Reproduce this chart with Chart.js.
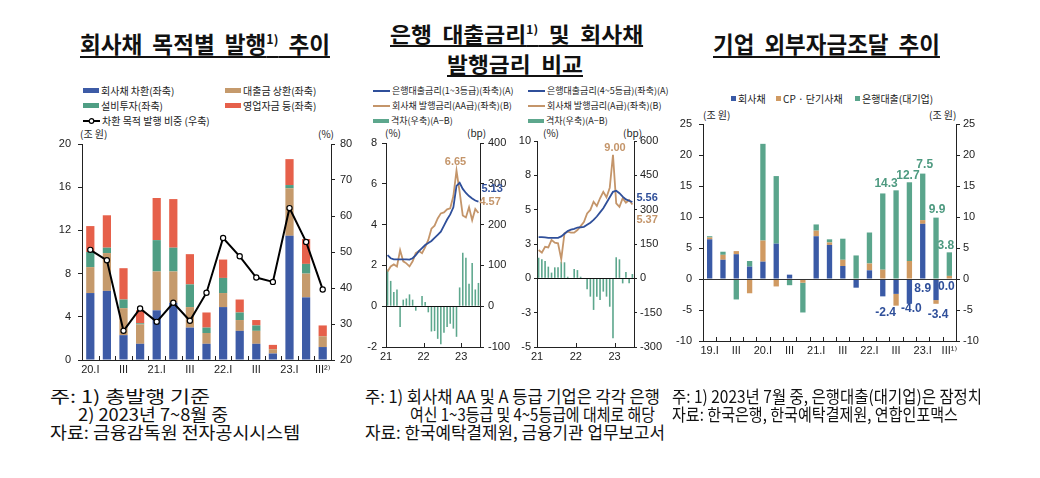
<!DOCTYPE html>
<html><head><meta charset="utf-8">
<script src="https://cdn.jsdelivr.net/npm/chart.js@4.4.0/dist/chart.umd.min.js"></script>
<style>
body{margin:0;background:#fff;width:1040px;height:478px;position:relative;overflow:hidden;font-family:'Noto Sans CJK KR','Noto Sans',sans-serif;color:#111;}
.abs{position:absolute;white-space:nowrap;transform-origin:0 0;}
.title{font-weight:700;line-height:24px;text-decoration:underline;text-decoration-thickness:2px;text-underline-offset:3px;word-spacing:5px;color:#111;}
.title sup{font-size:0.55em;vertical-align:0.7em;line-height:0;}
canvas{position:absolute;}
.lg{position:absolute;font-size:10px;line-height:13px;white-space:nowrap;display:flex;align-items:center;color:#222;}
.lg9{font-size:9px;}
.sw{display:inline-block;width:16px;height:5px;margin-right:2px;}
.sq{display:inline-block;width:5px;height:5px;margin-right:2px;}
.note{font-size:17px;line-height:18px;color:#111;}
</style></head><body>

<!-- titles -->
<div class="abs title" style="left:80px;top:31px;font-size:23px" data-w="250">회사채 목적별 발행<sup>1)</sup> 추이</div>
<div class="abs title" style="left:390px;top:21px;font-size:21px" data-w="253">은행 대출금리<sup>1)</sup> 및 회사채</div>
<div class="abs title" style="left:447px;top:51px;font-size:21px" data-w="136">발행금리 비교</div>
<div class="abs title" style="left:713px;top:31px;font-size:23px" data-w="227">기업 외부자금조달 추이</div>

<!-- chart 1 legend -->
<div class="lg" style="left:83px;top:84px"><i class="sw" style="background:#3d5ba6"></i>회사채 차환(좌축)</div>
<div class="lg" style="left:225px;top:84px"><i class="sw" style="background:#c59a6c"></i>대출금 상환(좌축)</div>
<div class="lg" style="left:83px;top:99px"><i class="sw" style="background:#4f9e84"></i>설비투자(좌축)</div>
<div class="lg" style="left:225px;top:99px"><i class="sw" style="background:#e6604a"></i>영업자금 등(좌축)</div>
<div class="lg" style="left:83px;top:114px"><svg width="17" height="8" style="margin-right:2px"><line x1="0" y1="4" x2="17" y2="4" stroke="#000" stroke-width="2"/><circle cx="8.5" cy="4" r="2.3" fill="#fff" stroke="#000" stroke-width="1.2"/></svg>차환 목적 발행 비중 (우축)</div>
<div class="lg" style="left:80px;top:127px">(조 원)</div>
<div class="lg" style="left:318px;top:127px">(%)</div>

<!-- chart 2 legend -->
<div class="lg lg9" style="left:373px;top:84px"><svg width="17" height="4" style="margin-right:2px"><line x1="0" y1="2" x2="17" y2="2" stroke="#2f4f9a" stroke-width="2"/></svg>은행대출금리(1~3등급)(좌축)(A)</div>
<div class="lg lg9" style="left:373px;top:99px"><svg width="17" height="4" style="margin-right:2px"><line x1="0" y1="2" x2="17" y2="2" stroke="#c4956a" stroke-width="2"/></svg>회사채 발행금리(AA급)(좌축)(B)</div>
<div class="lg lg9" style="left:373px;top:114px"><i class="sw" style="background:#5da78d;height:4px"></i>격차(우축)(A−B)</div>
<div class="lg" style="left:385px;top:126px">(%)</div>
<div class="lg" style="left:467px;top:126px">(bp)</div>

<!-- chart 3 legend -->
<div class="lg lg9" style="left:528px;top:84px"><svg width="17" height="4" style="margin-right:2px"><line x1="0" y1="2" x2="17" y2="2" stroke="#2f4f9a" stroke-width="2"/></svg>은행대출금리(4~5등급)(좌축)(A)</div>
<div class="lg lg9" style="left:528px;top:99px"><svg width="17" height="4" style="margin-right:2px"><line x1="0" y1="2" x2="17" y2="2" stroke="#c4956a" stroke-width="2"/></svg>회사채 발행금리(A급)(좌축)(B)</div>
<div class="lg lg9" style="left:528px;top:114px"><i class="sw" style="background:#5da78d;height:4px"></i>격차(우축)(A−B)</div>
<div class="lg" style="left:543px;top:126px">(%)</div>
<div class="lg" style="left:623px;top:126px">(bp)</div>

<!-- chart 4 legend -->
<div class="lg" style="left:731px;top:92px"><i class="sq" style="background:#3a5aa6"></i>회사채</div>
<div class="lg" style="left:776px;top:92px"><i class="sq" style="background:#d09a62"></i>CP · 단기사채</div>
<div class="lg" style="left:855px;top:92px"><i class="sq" style="background:#5aa58c"></i>은행대출(대기업)</div>
<div class="lg" style="left:703px;top:108px">(조 원)</div>
<div class="lg" style="left:929px;top:108px">(조 원)</div>

<canvas id="c1" width="320" height="250" style="left:40px;top:130px"></canvas>
<canvas id="c2" width="160" height="240" style="left:355px;top:128px"></canvas>
<canvas id="c3" width="165" height="240" style="left:507px;top:128px"></canvas>
<canvas id="c4" width="320" height="255" style="left:665px;top:108px"></canvas>

<!-- notes -->
<div class="abs note" style="left:50px;top:387px" data-w="160">주: 1) 총발행 기준</div>
<div class="abs note" style="left:78px;top:405px" data-w="150">2) 2023년 7~8월 중</div>
<div class="abs note" style="left:50px;top:423px" data-w="250">자료: 금융감독원 전자공시시스템</div>
<div class="abs note" style="left:365px;top:387px" data-w="295">주: 1) 회사채 AA 및 A 등급 기업은 각각 은행</div>
<div class="abs note" style="left:410px;top:405px" data-w="245">여신 1~3등급 및 4~5등급에 대체로 해당</div>
<div class="abs note" style="left:365px;top:423px" data-w="300">자료: 한국예탁결제원, 금융기관 업무보고서</div>
<div class="abs note" style="left:672px;top:387px" data-w="310">주: 1) 2023년 7월 중, 은행대출(대기업)은 잠정치</div>
<div class="abs note" style="left:672px;top:405px" data-w="286">자료: 한국은행, 한국예탁결제원, 연합인포맥스</div>

<script>
// ---------- Chart 1 data: 회사채 목적별 발행 ----------
const c1Labels   = ['20.I','','III','','21.I','','III','','22.I','','III','','23.I','','III²⁾'];
const refinance  = [6.2,6.4,2.3,1.5,4.6,5.3,3.0,1.5,4.9,2.7,1.5,0.6,11.5,5.8,1.2];
const loanRepay  = [2.4,3.5,2.5,1.8,3.6,2.9,1.9,1.0,1.3,1.0,1.2,0.4,4.4,2.2,1.0];
const facility   = [1.4,0.5,0.8,0.1,2.9,2.2,2.1,0.5,1.4,0.7,0.5,0.0,0.3,0.9,0.0];
const opFunds    = [2.4,3.0,2.9,1.2,3.9,4.5,2.8,1.4,1.7,1.2,0.5,0.4,2.4,2.3,1.0];
const refiShare  = [50.6,47.7,28.1,34.3,30.6,35.9,30.9,38.7,53.9,48.8,42.9,41.7,62.2,52.8,39.6];

// ---------- Chart 2/3 data: monthly rates ----------
const months = ['21.01','21.02','21.03','21.04','21.05','21.06','21.07','21.08','21.09','21.10','21.11','21.12',
                '22.01','22.02','22.03','22.04','22.05','22.06','22.07','22.08','22.09','22.10','22.11','22.12',
                '23.01','23.02','23.03','23.04','23.05','23.06'];
const bank13 = [2.5,2.35,2.3,2.3,2.3,2.3,2.3,2.28,2.35,2.5,2.7,2.85,3.0,3.1,3.2,3.35,3.5,3.65,3.95,4.25,4.5,4.85,5.9,6.05,5.75,5.55,5.4,5.28,5.18,5.13];
const bondAA = [1.7,1.95,2.05,1.95,2.75,2.2,2.1,1.95,2.2,2.6,2.7,2.6,2.9,3.25,3.8,3.95,4.3,4.55,4.6,4.75,4.8,5.4,6.65,5.6,4.45,4.35,4.85,4.22,4.77,4.57];
const gap13  = [90,62,35,41,-51,16,19,29,16,-11,0,25,10,-15,-62,-61,-80,-93,-65,-51,-43,-55,-75,46,131,119,55,106,41,57];
const bank45 = [3.0,3.0,2.98,2.95,2.95,2.95,2.95,3.05,3.25,3.45,3.55,3.6,3.7,3.72,3.75,3.9,4.05,4.25,4.5,4.8,5.1,5.5,5.9,6.3,6.38,6.2,5.95,5.75,5.65,5.56];
const bondA  = [2.06,1.87,2.3,2.25,2.8,2.6,2.55,1.4,3.28,3.4,3.33,3.33,3.52,3.8,4.1,4.73,4.98,5.58,5.27,5.83,6.3,5.9,6.6,9.0,5.46,5.2,5.83,5.5,5.7,5.37];
const gap45  = [90,83,76,51,25,48,48,73,70,7,0,41,36,7,0,-48,-80,-138,-80,-95,-58,-80,-124,-262,92,83,-22,28,-22,19];

// ---------- Chart 4 data: 기업 외부자금조달 ----------
const c4Labels  = ['19.I','','III','','20.I','','III','','21.I','','III','','22.I','','III','','23.I','','III¹⁾'];
const corpBond  = [6.4,3.1,4.0,2.0,2.8,5.7,0.7,0,6.9,5.5,2.1,-1.4,1.4,-2.8,-2.4,-4.0,8.9,-3.4,0.0];
const cpShort   = [0.3,0.8,0.5,-2.3,3.4,-1.2,0,-0.6,0.9,0.4,1.0,0,1.1,1.5,-1.9,2.9,0.6,-0.6,0.5];
const bankLoan  = [0.2,0.5,-3.3,0.9,15.6,10.9,-1.0,-4.8,1.0,0.5,3.4,3.8,5.0,12.3,14.3,12.7,7.5,9.9,3.8];

const BLUE='#3d5ba6', TAN='#c59a6c', GREEN='#4f9e84', RED='#e6604a';
const LBLUE='#2f4f9a', LTAN='#c4956a', GAPG='#5da78d';
const B4='#3a5aa6', T4='#d09a62', G4='#5aa58c';

Chart.defaults.font.family = "'Liberation Sans','DejaVu Sans',Arial,sans-serif";
Chart.defaults.font.size = 11;
Chart.defaults.color = '#222';
Chart.defaults.animation = false;
Chart.defaults.plugins.legend.display = false;
Chart.defaults.plugins.tooltip.enabled = false;

const extras = {
  id:'extras',
  afterDatasetsDraw(chart, args, o){
    const ctx=chart.ctx, ca=chart.chartArea;
    ctx.save();
    if (o.zeroLine){
      const y=Math.round(chart.scales[o.zeroLine.axis].getPixelForValue(0))+0.5;
      ctx.strokeStyle=o.zeroLine.color; ctx.lineWidth=o.zeroLine.width||1;
      ctx.beginPath(); ctx.moveTo(ca.left,y); ctx.lineTo(ca.right,y); ctx.stroke();
    }
    if (o.innerTicks){
      const xs=chart.scales.x; let px=[];
      if (o.innerTicks==='bounds'){
        const n=xs.getLabels().length;
        for(let i=1;i<n;i++) px.push((xs.getPixelForValue(i-1)+xs.getPixelForValue(i))/2);
      } else px=xs.ticks.map(t=>xs.getPixelForValue(t.value));
      ctx.strokeStyle='#222'; ctx.lineWidth=1;
      px.forEach(x=>{const xx=Math.round(x)+0.5; ctx.beginPath(); ctx.moveTo(xx,ca.bottom); ctx.lineTo(xx,ca.bottom-4); ctx.stroke();});
    }
    (o.labels||[]).forEach(l=>{
      const el=chart.getDatasetMeta(l.ds).data[l.i];
      const v=chart.data.datasets[l.ds].data[l.i];
      const val=(typeof v==='object')?v.y:v;
      ctx.font='bold '+(l.size||12)+"px 'Liberation Sans',Arial,sans-serif";
      ctx.fillStyle=l.color; ctx.textAlign=l.align||'center'; ctx.textBaseline='middle';
      ctx.fillText(val.toFixed(l.dec), el.x+l.dx, el.y+l.dy);
    });
    ctx.restore();
  }
};
Chart.register(extras);

function yAxis(pos,min,max,step,w,tl,pad,cb){
  const a={position:pos,min,max,
    afterFit:s=>{s.width=w;},
    grid:{drawOnChartArea:false,drawTicks:true,tickLength:tl,color:'#222'},
    border:{display:true,color:'#222',width:1},
    ticks:{stepSize:step,padding:pad,color:'#222',font:{size:11}}};
  if(cb) a.ticks.callback=cb;
  return a;
}
function xCat(h){
  return {offset:true,stacked:true,afterFit:s=>{s.height=h;},
    grid:{drawOnChartArea:false,drawTicks:false,offset:true},
    border:{display:true,color:'#222',width:1},
    ticks:{autoSkip:false,maxRotation:0,minRotation:0,padding:3,color:'#222',font:{size:11}}};
}

// Chart 1
new Chart(document.getElementById('c1'),{
  type:'bar',
  data:{labels:c1Labels,datasets:[
    {type:'line',label:'차환 목적 발행 비중 (우축)',data:refiShare,yAxisID:'y1',order:0,borderColor:'#000',borderWidth:2,
     pointRadius:2.6,pointBackgroundColor:'#fff',pointBorderColor:'#000',pointBorderWidth:1.2,tension:0},
    {label:'회사채 차환(좌축)',data:refinance,backgroundColor:BLUE,order:1,categoryPercentage:0.8,barPercentage:0.62},
    {label:'대출금 상환(좌축)',data:loanRepay,backgroundColor:TAN,order:1,categoryPercentage:0.8,barPercentage:0.62},
    {label:'설비투자(좌축)',data:facility,backgroundColor:GREEN,order:1,categoryPercentage:0.8,barPercentage:0.62},
    {label:'영업자금 등(좌축)',data:opFunds,backgroundColor:RED,order:1,categoryPercentage:0.8,barPercentage:0.62}
  ]},
  options:{responsive:false,layout:{padding:{top:14,left:0,right:0,bottom:0}},
    scales:{x:xCat(20),
      y:Object.assign(yAxis('left',0,20,4,42,4,7),{stacked:true}),
      y1:yAxis('right',20,80,10,29,4,5)},
    plugins:{extras:{innerTicks:'bounds'}}}
});

// shared builders for monthly charts
const yearStarts = months.map((m,i)=>m.endsWith('.01')?i-0.5:null).filter(v=>v!==null);
const yearNames  = months.filter(m=>m.endsWith('.01')).map(m=>m.slice(0,2));
const pts = arr => arr.map((v,i)=>({x:i,y:v}));
function xMonthly(){
  return {type:'linear',min:-0.5,max:months.length-0.5,offset:false,
    afterBuildTicks:s=>{s.ticks=yearStarts.map(v=>({value:v}));},
    afterFit:s=>{s.height=21;},
    grid:{drawOnChartArea:false,drawTicks:false},
    border:{display:true,color:'#222',width:1},
    ticks:{autoSkip:false,maxRotation:0,padding:3,color:'#222',font:{size:11},callback:(v,i)=>yearNames[i]}};
}
function monthlyChart(id,bank,bond,gap,lMin,lMax,lStep,rMin,rMax,rStep,lw,rw,top,lcb,lab,ltl,lpad,rtl,rpad){
  return new Chart(document.getElementById(id),{
    type:'bar',
    data:{datasets:[
      {type:'line',data:pts(bank),yAxisID:'y',order:0,borderColor:LBLUE,borderWidth:1.8,pointRadius:0,tension:0},
      {type:'line',data:pts(bond),yAxisID:'y',order:0,borderColor:LTAN,borderWidth:1.8,pointRadius:0,tension:0},
      {data:pts(gap),yAxisID:'y1',order:1,backgroundColor:GAPG,categoryPercentage:1,barPercentage:0.5}
    ]},
    options:{responsive:false,layout:{padding:{top:top,left:0,right:0,bottom:0}},
      scales:{x:xMonthly(),
        y:yAxis('left',lMin,lMax,lStep,lw,ltl,lpad,lcb),
        y1:yAxis('right',rMin,rMax,rStep,rw,rtl,rpad)},
      plugins:{extras:{zeroLine:{axis:'y',color:'#111'},innerTicks:'ticks',labels:lab}}}
  });
}
monthlyChart('c2',bank13,bondAA,gap13,-2,8,2,-100,400,100,31,35,15,null,[
  {ds:1,i:22,dx:-1,dy:-9,color:LTAN,dec:2,size:11},
  {ds:0,i:29,dx:3,dy:-13,color:LBLUE,dec:2,size:11,align:'left'},
  {ds:1,i:29,dx:1,dy:-11,color:LTAN,dec:2,size:11,align:'left'}
],4,5,4,4);
monthlyChart('c3',bank45,bondA,gap45,-5,10,2.5,-300,600,150,30,38,13,v=>Number(v).toFixed(0),[
  {ds:1,i:23,dx:2,dy:-7,color:LTAN,dec:2,size:11},
  {ds:0,i:29,dx:4,dy:-4,color:LBLUE,dec:2,size:11,align:'left'},
  {ds:1,i:29,dx:4,dy:15,color:LTAN,dec:2,size:11,align:'left'}
],3,3,3,3);

// Chart 4
new Chart(document.getElementById('c4'),{
  type:'bar',
  data:{labels:c4Labels,datasets:[
    {label:'회사채',data:corpBond,backgroundColor:B4,categoryPercentage:0.8,barPercentage:0.5},
    {label:'CP · 단기사채',data:cpShort,backgroundColor:T4,categoryPercentage:0.8,barPercentage:0.5},
    {label:'은행대출(대기업)',data:bankLoan,backgroundColor:G4,categoryPercentage:0.8,barPercentage:0.5}
  ]},
  options:{responsive:false,layout:{padding:{top:16,left:0,right:0,bottom:0}},
    scales:{x:xCat(22),
      y:Object.assign(yAxis('left',-10,25,5,38,4,7),{stacked:true}),
      y1:yAxis('right',-10,25,5,29,4,3)},
    plugins:{extras:{zeroLine:{axis:'y',color:'#333',width:1.2},innerTicks:'bounds',labels:[
      {ds:2,i:14,dx:-10,dy:-7,color:'#4e9a80',dec:1,size:12},
      {ds:2,i:15,dx:-1.5,dy:-7,color:'#4e9a80',dec:1,size:12},
      {ds:2,i:16,dx:2,dy:-9,color:'#4e9a80',dec:1,size:12},
      {ds:2,i:17,dx:1,dy:-8,color:'#4e9a80',dec:1,size:12},
      {ds:2,i:18,dx:-3.5,dy:-7,color:'#4e9a80',dec:1,size:12},
      {ds:0,i:14,dx:-10.5,dy:18.5,color:'#2f4f9a',dec:1,size:12},
      {ds:0,i:15,dx:2,dy:5,color:'#2f4f9a',dec:1,size:12},
      {ds:0,i:16,dx:0,dy:65,color:'#2f4f9a',dec:1,size:12},
      {ds:0,i:17,dx:2,dy:14.5,color:'#2f4f9a',dec:1,size:12},
      {ds:0,i:18,dx:-3,dy:8,color:'#2f4f9a',dec:1,size:12}
    ]}}}
});

// fit text blocks to reference widths
document.querySelectorAll('[data-w]').forEach(el=>{
  const w=el.getBoundingClientRect().width;
  const t=parseFloat(el.dataset.w);
  if(w>0) el.style.transform='scaleX('+(t/w).toFixed(3)+')';
});
</script>
</body></html>
